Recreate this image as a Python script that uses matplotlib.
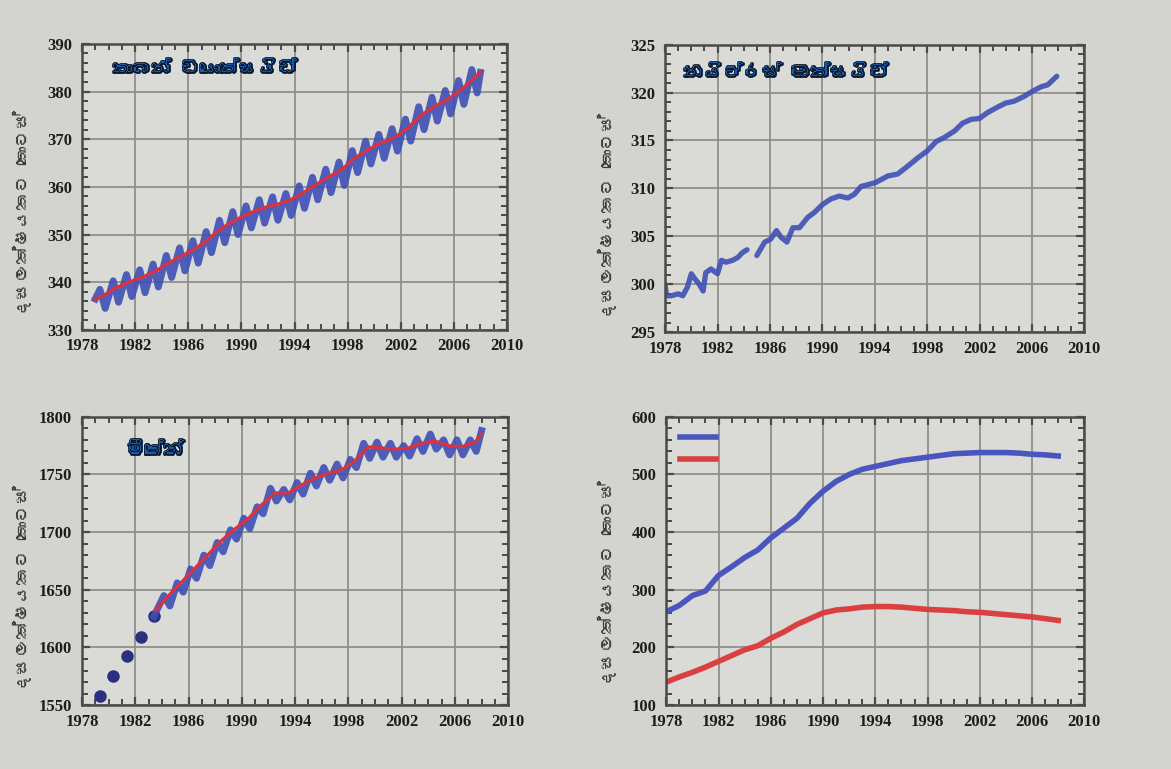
import numpy as np
import matplotlib
matplotlib.use('Agg')
import matplotlib.pyplot as plt
from matplotlib import font_manager
from matplotlib.ft2font import FT2Font
from matplotlib.ticker import MultipleLocator
from matplotlib.lines import Line2D
import matplotlib.patheffects as pe

# --- data --------------------------------------------------------------

# carbon dioxide (ppm): yearly seasonal high / low and smoothed trend
co2_years = np.arange(1979, 2008)
co2_peak = [338.5, 340.3, 341.6, 342.6, 343.8, 345.6, 347.2, 348.7, 350.6, 353.0,
            354.8, 356.0, 357.3, 357.9, 358.6, 360.2, 362.0, 363.7, 365.2, 367.6,
            369.6, 371.0, 372.2, 374.2, 376.8, 378.8, 380.2, 382.3, 384.6]
co2_trough = [334.5, 335.8, 337.0, 337.8, 339.0, 341.0, 342.4, 344.0, 346.2, 348.3,
              350.0, 351.4, 352.4, 353.0, 354.0, 355.5, 357.3, 358.8, 360.3, 363.0,
              364.8, 366.0, 367.5, 369.6, 372.0, 373.8, 375.3, 377.3, 379.7]
co2_trend = [337.0, 338.8, 340.0, 341.0, 342.3, 344.0, 345.5, 347.0, 349.0, 351.3,
             353.0, 354.3, 355.5, 356.2, 357.0, 358.5, 360.3, 362.0, 363.5, 366.0,
             367.8, 369.2, 370.3, 372.3, 375.0, 376.8, 378.3, 380.3, 382.8]
co2_start = (1979.0, 336.5)
co2_end = (2008.0, 384.0)

# nitrous oxide (ppb), gap in 1984
n2o_years = [1978.0, 1978.1, 1978.45, 1979.0, 1979.35, 1979.7, 1980.0, 1980.25, 1980.6,
             1980.9, 1981.1, 1981.5, 1982.0, 1982.3, 1982.65, 1983.15, 1983.55, 1983.9,
             1984.25, np.nan, 1985.0, 1985.6, 1986.05, 1986.5, 1986.85, 1987.3, 1987.75,
             1988.25, 1988.9, 1989.4, 1990.0, 1990.65, 1991.3, 1991.95, 1992.45, 1992.95,
             1993.5, 1994.05, 1995.0, 1995.75, 1996.5, 1997.3, 1998.0, 1998.7, 1999.3,
             2000.1, 2000.7, 2001.35, 2002.0, 2002.6, 2003.4, 2004.0, 2004.65, 2005.4,
             2006.0, 2006.7, 2007.2, 2007.9]
n2o_values = [300.0, 298.8, 298.8, 299.0, 298.8, 299.7, 301.1, 300.6, 300.0,
              299.3, 301.2, 301.6, 301.1, 302.5, 302.3, 302.5, 302.8, 303.3,
              303.6, np.nan, 303.0, 304.4, 304.7, 305.6, 304.9, 304.4, 305.9,
              305.9, 307.0, 307.5, 308.3, 308.9, 309.2, 309.0, 309.4, 310.2,
              310.4, 310.6, 311.3, 311.5, 312.3, 313.2, 313.9, 314.9, 315.3,
              316.0, 316.8, 317.2, 317.3, 317.9, 318.5, 318.9, 319.1, 319.6,
              320.1, 320.6, 320.8, 321.7]

# methane (ppb): early flask points, then seasonal high / low and trend
ch4_dot_years = [1979.35, 1980.35, 1981.4, 1982.45, 1983.4]
ch4_dot_values = [1558, 1575, 1593, 1609, 1627]
ch4_years = np.arange(1984, 2008)
ch4_peak = [1645, 1656, 1668, 1680, 1691, 1702, 1712, 1722, 1738, 1737, 1743, 1751,
            1756, 1759, 1763, 1777, 1778, 1777, 1775, 1781, 1785, 1780, 1780, 1780]
ch4_trough = [1636, 1648, 1660, 1671, 1683, 1694, 1703, 1716, 1727, 1728, 1733, 1740,
              1745, 1747, 1756, 1764, 1765, 1765, 1766, 1770, 1772, 1767, 1767, 1770]
ch4_trend_years = np.arange(1983, 2008)
ch4_trend = [1632, 1645, 1657, 1669, 1681, 1693, 1703, 1712, 1724, 1734, 1734, 1741,
             1747, 1751, 1754, 1762, 1774, 1773, 1772, 1773, 1777, 1779, 1775, 1774, 1778]
ch4_end = (2008.0, 1788)

# CFC-12 (blue) and CFC-11 (red), ppt
cfc_years = np.arange(1978, 2009)
cfc12 = [262, 273, 290, 298, 325, 340, 356, 369, 390, 407, 424, 450, 471, 488, 500, 509,
         514, 519, 524, 527, 530, 533, 536, 537, 538, 538, 538, 537, 535, 534, 532]
cfc11 = [140, 149, 157, 166, 176, 186, 196, 203, 216, 227, 240, 250, 260, 265, 267, 270,
         271, 271, 270, 268, 266, 265, 264, 262, 261, 259, 257, 255, 253, 250, 247]

titles = ['කාබන් ඩයොක්සයිඩ්', 'නයිට්රස් ඔක්සයිඩ්', 'මීතේන්']
ylabel = 'දසලක්ෂයකට කොටස්'
year_ticks = [1978, 1982, 1986, 1990, 1994, 1998, 2002, 2006, 2010]


def find_sinhala_font():
    """Return an installed family that has Sinhala glyphs, if any"""
    for f in font_manager.fontManager.ttflist:
        try:
            if 0x0D9A in FT2Font(f.fname).get_charmap():
                return f.name
        except Exception:
            pass
    return None


si_font = find_sinhala_font()
si_family = [si_font, 'DejaVu Sans'] if si_font else ['DejaVu Sans']

BG = '#d3d4cf'
AX_BG = '#dadbd6'
BLUE = '#3f4fb5'
RED = '#e0303c'

fig = plt.figure(figsize=(11.71, 7.69), dpi=100, facecolor=BG)

# axes boxes in figure fractions [left, bottom, width, height]
boxes = {
    'co2': [0.070, 0.571, 0.363, 0.372],
    'n2o': [0.568, 0.568, 0.358, 0.374],
    'ch4': [0.070, 0.083, 0.364, 0.375],
    'cfc': [0.569, 0.083, 0.357, 0.375],
}


def style_axes(ax, ylim, ystep, yminor):
    ax.set_facecolor(AX_BG)
    ax.set_xlim(1978, 2010)
    ax.set_ylim(*ylim)
    ax.set_xticks(year_ticks)
    ax.yaxis.set_major_locator(MultipleLocator(ystep))
    ax.xaxis.set_minor_locator(MultipleLocator(1))
    ax.yaxis.set_minor_locator(MultipleLocator(yminor))
    ax.grid(True, which='major', color='#8f908c', linewidth=1.3)
    ax.set_axisbelow(True)
    ax.tick_params(which='both', direction='in', top=True, right=True, color='#4a4a4a')
    ax.tick_params(which='major', length=6, width=1.6)
    ax.tick_params(which='minor', length=4, width=1.4)
    ax.tick_params(axis='x', pad=6)
    ax.tick_params(axis='y', pad=7)
    for lab in ax.get_xticklabels() + ax.get_yticklabels():
        lab.set_fontfamily('Liberation Serif')
        lab.set_fontweight('bold')
        lab.set_fontsize(12)
        lab.set_color('#1c1c1c')
    for sp in ax.spines.values():
        sp.set_color('#4a4a4a')
        sp.set_linewidth(1.8)


def add_title(ax, text, x, y):
    ax.text(x, y, text, transform=ax.transAxes, ha='center', va='center',
            fontsize=14, fontweight='bold', color='#1d5aa6', family=si_family,
            path_effects=[pe.withStroke(linewidth=2.0, foreground='#0a1a33')])


def seasonal_line(years, peaks, troughs, peak_off, trough_off, start, end):
    xs, ys = [start[0]], [start[1]]
    for yr, p, t in zip(years, peaks, troughs):
        xs += [yr + peak_off, yr + trough_off]
        ys += [p, t]
    xs.append(end[0])
    ys.append(end[1])
    return xs, ys


# --- carbon dioxide ---
ax1 = fig.add_axes(boxes['co2'])
style_axes(ax1, (330, 390), 10, 2)
bx, by = seasonal_line(co2_years, co2_peak, co2_trough, 0.35, 0.75, co2_start, co2_end)
ax1.plot(bx, by, color=BLUE, lw=5, alpha=0.9, solid_joinstyle='round')
ax1.plot([co2_start[0]] + list(co2_years + 0.5) + [co2_end[0]],
         [co2_start[1]] + co2_trend + [co2_end[1]], color=RED, lw=2.2)
add_title(ax1, titles[0], 0.29, 0.915)

# --- nitrous oxide ---
ax2 = fig.add_axes(boxes['n2o'])
style_axes(ax2, (295, 325), 5, 1)
ax2.plot(n2o_years, n2o_values, color=BLUE, lw=3.8, alpha=0.9, solid_capstyle='round')
add_title(ax2, titles[1], 0.29, 0.905)

# --- methane ---
ax3 = fig.add_axes(boxes['ch4'])
style_axes(ax3, (1550, 1800), 50, 10)
ax3.plot(ch4_dot_years, ch4_dot_values, 'o', color='#2a2f80', ms=8)
mx, my = seasonal_line(ch4_years, ch4_peak, ch4_trough, 0.15, 0.6,
                       (ch4_dot_years[-1], ch4_dot_values[-1]), ch4_end)
ax3.plot(mx, my, color=BLUE, lw=5, alpha=0.9, solid_joinstyle='round')
ax3.plot(list(ch4_trend_years + 0.5) + [ch4_end[0]], ch4_trend + [ch4_end[1] - 3],
         color=RED, lw=2.2)
add_title(ax3, titles[2], 0.17, 0.885)

# --- CFCs ---
ax4 = fig.add_axes(boxes['cfc'])
style_axes(ax4, (100, 600), 100, 20)
ax4.plot(cfc_years, cfc12, color='#4a55bd', lw=4)
ax4.plot(cfc_years, cfc11, color='#d9403f', lw=4)
handles = [Line2D([], [], color='#4a55bd', lw=4), Line2D([], [], color='#d9403f', lw=4)]
ax4.legend(handles, ['', ''], loc='upper left', frameon=False, handlelength=2.6,
           borderaxespad=0.6, labelspacing=0.6)

# y axis labels
for x, y in [(0.019, 0.723), (0.519, 0.718), (0.019, 0.235), (0.519, 0.241)]:
    fig.text(x, y, ylabel, rotation=90, ha='center', va='center', fontsize=13,
             color='#3a3a3a', family=si_family)

fig.savefig('out.png', dpi=100, facecolor=BG)
